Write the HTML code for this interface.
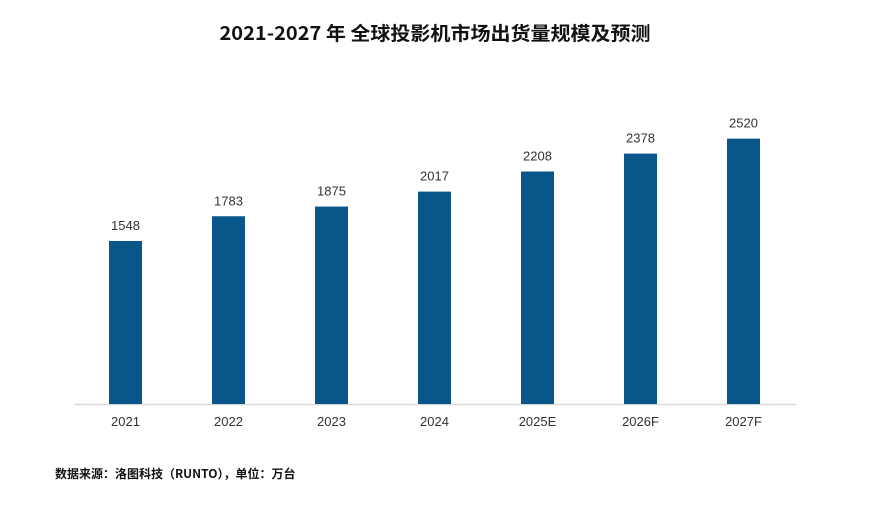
<!DOCTYPE html>
<html><head><meta charset="utf-8"><style>
html,body{margin:0;padding:0;background:#fff;}
svg{display:block;}
</style></head><body>
<svg id="chart" width="873" height="511" viewBox="0 0 873 511">
<text x="435" y="40" text-anchor="middle" font-family="'Noto Sans CJK SC', 'WenQuanYi Zen Hei', sans-serif" font-size="19" font-weight="bold" fill="#111" textLength="431" lengthAdjust="spacingAndGlyphs">2021-2027 年 全球投影机市场出货量规模及预测</text>
<line x1="74" y1="404.5" x2="796" y2="404.5" stroke="#d9d9d9" stroke-width="1.5"/>
<g id="bars"></g>
<text x="55" y="478" font-family="'Noto Sans CJK SC', 'WenQuanYi Zen Hei', sans-serif" font-size="12" font-weight="bold" fill="#111">数据来源：洛图科技（RUNTO），单位：万台</text>
</svg>
<script>
const categories = ["2021","2022","2023","2024","2025E","2026F","2027F"];
const values = [1548,1783,1875,2017,2208,2378,2520];
const ns = "http://www.w3.org/2000/svg";
const baseY = 404, scale = 0.1053, x0 = 125.5, step = 103, bw = 33;
function xPos(i){ return x0 + i*step; }
function yPos(v){ return baseY - v*scale; }
const g = document.getElementById('bars');
categories.forEach((c,i)=>{
  const r = document.createElementNS(ns,'rect');
  r.setAttribute('x', xPos(i)-bw/2);
  r.setAttribute('y', yPos(values[i]));
  r.setAttribute('width', bw);
  r.setAttribute('height', baseY - yPos(values[i]));
  r.setAttribute('fill', '#08568a');
  
  
  g.appendChild(r);
  const t = document.createElementNS(ns,'text');
  t.setAttribute('x', xPos(i));
  t.setAttribute('y', yPos(values[i]) - 11);
  t.setAttribute('text-anchor','middle');
  t.setAttribute('font-family','"Liberation Sans", sans-serif');
  t.setAttribute('font-size','13');
  t.setAttribute('fill','#333');
  t.textContent = values[i];
  
  
  g.appendChild(t);
  const l = document.createElementNS(ns,'text');
  l.setAttribute('x', xPos(i));
  l.setAttribute('y', 426);
  l.setAttribute('text-anchor','middle');
  l.setAttribute('font-family','"Liberation Sans", sans-serif');
  l.setAttribute('font-size','13');
  l.setAttribute('fill','#333');
  l.textContent = c;
  
  
  g.appendChild(l);
});
</script>
</body></html>
